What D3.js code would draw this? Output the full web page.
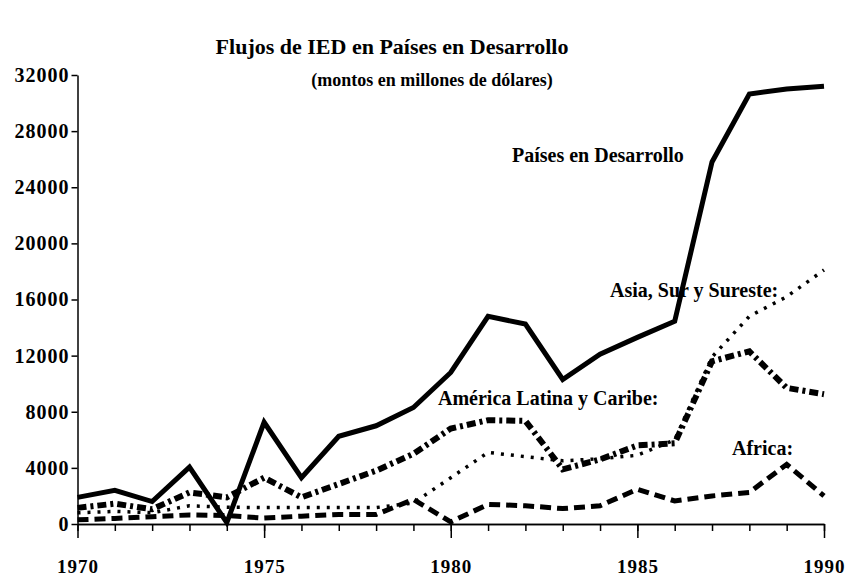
<!DOCTYPE html>
<html>
<head>
<meta charset="utf-8">
<script src="https://cdn.jsdelivr.net/npm/d3@7"></script>
<style>
  body { margin: 0; background: #fff; }
  svg { display: block; }
  text { font-family: 'Liberation Serif', 'DejaVu Serif', serif; font-weight: bold; fill: #000; }
</style>
</head>
<body>
<svg id="chart"></svg>
<script>

const years = [1970, 1971, 1972, 1973, 1974, 1975, 1976, 1977, 1978, 1979, 1980,
               1981, 1982, 1983, 1984, 1985, 1986, 1987, 1988, 1989, 1990]

const paisesDesarrollo = [1900, 2400, 1600, 4050, 100, 7250, 3300, 6250, 7000, 8300, 10800,
                          14800, 14250, 10300, 12100, 13300, 14450, 25800, 30650, 31000, 31200]
const asiaSurSureste = [800, 900, 800, 1300, 1200, 1170, 1170, 1170, 1170, 1500, 3300,
                        5100, 4800, 4500, 4650, 4900, 6000, 11900, 14800, 16200, 18100]
const americaLatina = [1150, 1450, 1050, 2250, 1900, 3300, 1900, 2850, 3800, 5000, 6800,
                       7400, 7350, 3900, 4600, 5600, 5750, 11600, 12300, 9700, 9250]
const africa = [300, 400, 520, 650, 600, 420, 560, 680, 680, 1750, 150,
                1400, 1300, 1100, 1300, 2480, 1640, 2000, 2250, 4250, 2000]

const yTicks = [0, 4000, 8000, 12000, 16000, 20000, 24000, 28000, 32000]
const xMajor = [1970, 1975, 1980, 1985, 1990]

const series = [
  { name: 'Países en Desarrollo', values: paisesDesarrollo, width: 5, dash: null,
    label: 'Países en Desarrollo', lx: 512, ly: 162 },
  { name: 'Asia', values: asiaSurSureste, width: 3.5, dash: '3,7',
    label: 'Asia, Sur y Sureste:', lx: 610, ly: 297 },
  { name: 'América Latina', values: americaLatina, width: 6, dash: '9,4,3,4',
    label: 'América Latina y Caribe:', lx: 438, ly: 405 },
  { name: 'Africa', values: africa, width: 5, dash: '11,6',
    label: 'Africa:', lx: 732, ly: 455 }
]

const width = 847
const height = 579

const svg = d3.select('#chart')
  .attr('width', width)
  .attr('height', height)

const x = d3.scaleLinear()
  .domain([1970, 1990])
  .range([77.5, 824])

const y = d3.scaleLinear()
  .domain([0, 32000])
  .range([524, 75])

// titulo
svg.append('text')
  .attr('x', 392).attr('y', 54)
  .attr('text-anchor', 'middle')
  .style('font-size', '22px')
  .text('Flujos de IED en Países en Desarrollo')

svg.append('text')
  .attr('x', 432).attr('y', 86)
  .attr('text-anchor', 'middle')
  .style('font-size', '18px')
  .text('(montos en millones de dólares)')

// eje y
const yAxis = svg.append('g')
  .attr('transform', 'translate(' + x(1970) + ',0)')
  .call(d3.axisLeft(y).tickValues(yTicks).tickSize(6).tickSizeOuter(0).tickPadding(2).tickFormat(d3.format('d')))
yAxis.selectAll('text').style('font-size', '20px').style('letter-spacing', '1px')

// eje x, marcas menores y mayores
svg.append('g')
  .attr('transform', 'translate(0,' + y(0) + ')')
  .call(d3.axisBottom(x).tickValues(years).tickSize(7).tickSizeOuter(0).tickFormat(''))

const xAxis = svg.append('g')
  .attr('transform', 'translate(0,' + y(0) + ')')
  .call(d3.axisBottom(x).tickValues(xMajor).tickSize(14).tickSizeOuter(0).tickPadding(22).tickFormat(d3.format('d')))
xAxis.selectAll('text').style('font-size', '19px').style('letter-spacing', '1px')

svg.selectAll('.domain, .tick line').attr('stroke', '#000').attr('stroke-width', 1.5)

// etiquetas de series (debajo de las lineas)
svg.append('g')
  .selectAll('text')
  .data(series)
  .join('text')
    .attr('x', d => d.lx)
    .attr('y', d => d.ly)
    .style('font-size', '20px')
    .text(d => d.label)

const line = d3.line()
  .x((d, i) => x(years[i]))
  .y(d => y(d))

svg.append('g')
  .selectAll('path')
  .data(series)
  .join('path')
    .attr('fill', 'none')
    .attr('stroke', '#000')
    .attr('stroke-width', d => d.width)
    .attr('stroke-dasharray', d => d.dash)
    .attr('stroke-linejoin', 'miter')
    .attr('d', d => line(d.values))

</script>
</body>
</html>
